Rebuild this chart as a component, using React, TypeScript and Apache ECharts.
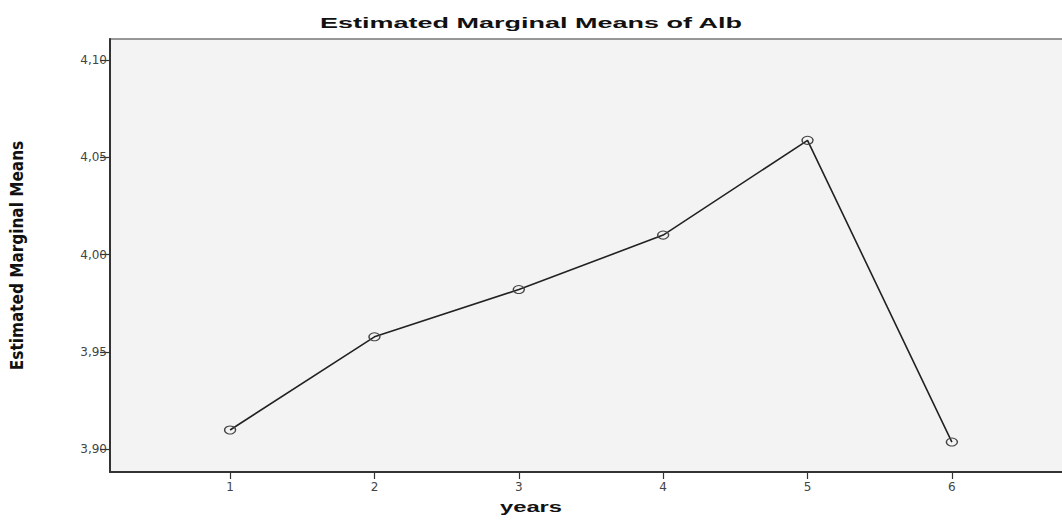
import React, { useEffect, useRef } from "react";
import * as echarts from "echarts";

const years: number[] = [1, 2, 3, 4, 5, 6];
const means: number[] = [3.9098, 3.9577, 3.982, 4.01, 4.0587, 3.9036];
const yTicks: number[] = [3.9, 3.95, 4.0, 4.05, 4.1];
const titleText = "Estimated Marginal Means of Alb";
const xName = "years";
const yName = "Estimated Marginal Means";

export default function App() {
  const ref = useRef<HTMLDivElement>(null);
  useEffect(() => {
    if (!ref.current) return;
    const chart = echarts.init(ref.current, null, { renderer: "svg" });
    chart.setOption({
      animation: false,
      backgroundColor: "#ffffff",
      grid: {
        left: 103,
        right: 8,
        top: 39,
        bottom: 48,
        show: true,
        backgroundColor: "#f3f3f3",
        borderColor: "#777",
        borderWidth: 1.5,
      },
      xAxis: {
        type: "value",
        min: 0.168,
        max: 6.832,
        splitLine: { show: false },
        axisLine: { show: true, onZero: false, lineStyle: { color: "#333", width: 2 } },
        axisTick: { show: true, customValues: years, length: 7, lineStyle: { color: "#333", width: 1.2 } },
        axisLabel: {
          customValues: years,
          fontSize: 12,
          fontFamily: "DejaVu Sans",
          color: "#444",
          margin: 9,
        },
      },
      yAxis: {
        type: "value",
        min: 3.8882,
        max: 4.1108,
        splitLine: { show: false },
        axisLine: { show: true, onZero: false, lineStyle: { color: "#333", width: 2 } },
        axisTick: { show: true, customValues: yTicks, length: 10, lineStyle: { color: "#333", width: 1.2 } },
        axisLabel: {
          customValues: yTicks,
          formatter: (v: number) => v.toFixed(2).replace(".", ","),
          fontSize: 12,
          fontFamily: "DejaVu Sans",
          color: "#444",
          margin: 3,
        },
        name: yName,
        nameLocation: "middle",
        nameGap: 85,
        nameRotate: 90,
        nameTextStyle: {
          fontFamily: "'Liberation Sans Narrow', 'DejaVu Sans Condensed', sans-serif",
          fontWeight: "bold",
          fontSize: 17,
          color: "#111",
        },
      },
      series: [
        {
          type: "line",
          data: years.map((x, i) => [x, means[i]]),
          symbol: "circle",
          symbolSize: [11, 8],
          lineStyle: { color: "#222", width: 1.6 },
          itemStyle: { color: "rgba(0,0,0,0)", borderColor: "#444", borderWidth: 1.2 },
        },
      ],
      graphic: [
        {
          type: "text",
          x: 531,
          y: 23,
          scaleX: 1.8,
          style: {
            text: titleText,
            font: "bold 15px 'Liberation Sans', Arial, sans-serif",
            fill: "#111",
            textAlign: "center",
            textVerticalAlign: "middle",
          },
        },
        {
          type: "text",
          x: 531,
          y: 507,
          scaleX: 1.7,
          style: {
            text: xName,
            font: "bold 14px 'Liberation Sans', Arial, sans-serif",
            fill: "#111",
            textAlign: "center",
            textVerticalAlign: "middle",
          },
        },
      ],
    });
    return () => chart.dispose();
  }, []);
  return (
    <div style={{ position: "absolute", left: 0, top: 0, width: 1062, height: 520, overflow: "hidden", background: "#fff" }}>
      <div ref={ref} style={{ width: 1080, height: 520 }} />
    </div>
  );
}
